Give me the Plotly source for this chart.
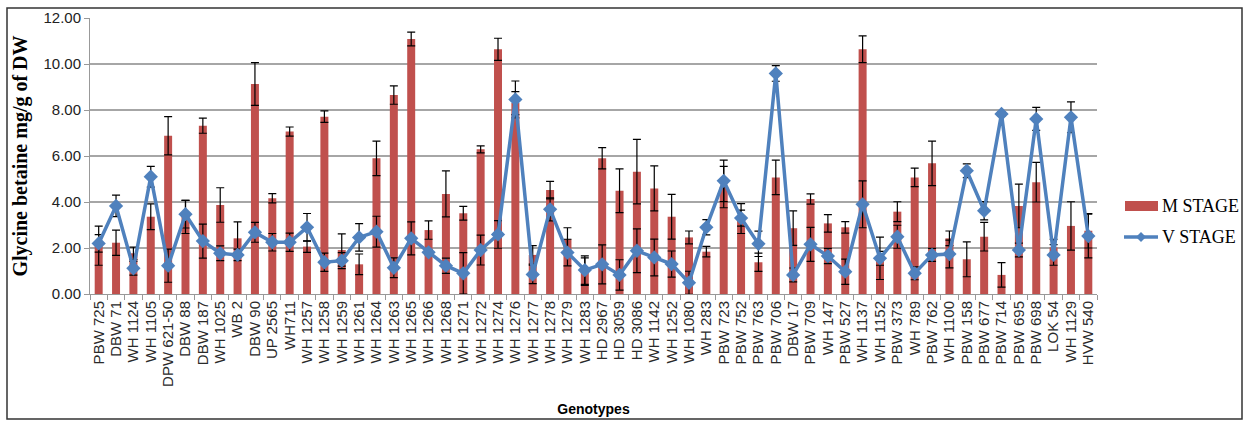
import plotly.graph_objects as go

genotypes = ["PBW 725", "DBW 71", "WH 1124", "WH 1105", "DPW 621-50", "DBW 88", "DBW 187",
             "WH 1025", "WB 2", "DBW 90", "UP 2565", "WH711", "WH 1257", "WH 1258", "WH 1259",
             "WH 1261", "WH 1264", "WH 1263", "WH 1265", "WH 1266", "WH 1268", "WH 1271",
             "WH 1272", "WH 1274", "WH 1276", "WH 1277", "WH 1278", "WH 1279", "WH 1283",
             "HD 2967", "HD 3059", "HD 3086", "WH 1142", "WH 1252", "WH 1080", "WH 283",
             "PBW 723", "PBW 752", "PBW 763", "PBW 706", "DBW 17", "PBW 709", "WH 147",
             "PBW 527", "WH 1137", "WH 1152", "PBW 373", "WH 789", "PBW 762", "WH 1100",
             "PBW 158", "PBW 677", "PBW 714", "PBW 695", "PBW 698", "LOK 54", "WH 1129", "HVW 540"]

m_stage = [2.10, 2.23, 1.77, 3.36, 6.88, 3.35, 7.32, 3.87, 2.42, 9.13,
           4.16, 7.06, 2.06, 7.71, 1.91, 1.29, 5.90, 8.65, 11.09, 2.78,
           4.35, 3.51, 6.29, 10.64, 8.30, 1.70, 4.52, 2.38, 0.97, 5.90,
           4.49, 5.32, 4.59, 3.36, 2.46, 1.84, 4.65, 3.28, 1.38, 5.07,
           2.86, 4.13, 3.07, 2.90, 10.64, 1.55, 3.58, 5.07, 5.68, 2.42,
           1.51, 2.49, 0.83, 3.83, 4.86, 2.03, 2.96, 2.75]
m_err = [0.85, 0.55, 0.27, 0.56, 0.83, 0.72, 0.33, 0.75, 0.72, 0.93,
         0.20, 0.20, 0.25, 0.25, 0.70, 0.45, 0.75, 0.40, 0.30, 0.40,
         1.00, 0.30, 0.15, 0.48, 0.50, 0.40, 0.38, 0.50, 0.60, 0.46,
         0.95, 1.40, 0.98, 0.97, 0.28, 0.23, 0.90, 0.65, 0.40, 0.75,
         0.75, 0.22, 0.38, 0.25, 0.58, 0.92, 0.43, 0.40, 0.97, 0.32,
         0.76, 0.62, 0.53, 0.95, 0.86, 0.35, 1.05, 0.75]

v_stage = [2.20, 3.83, 1.12, 5.10, 1.23, 3.47, 2.30, 1.77, 1.70, 2.68,
           2.25, 2.25, 2.90, 1.38, 1.45, 2.46, 2.71, 1.14, 2.42, 1.81,
           1.23, 0.90, 1.91, 2.59, 8.46, 0.85, 3.68, 1.80, 1.04, 1.29,
           0.83, 1.88, 1.59, 1.30, 0.49, 2.90, 4.92, 3.30, 2.18, 9.59,
           0.83, 2.16, 1.65, 0.97, 3.90, 1.55, 2.49, 0.90, 1.70, 1.74,
           5.36, 3.62, 7.83, 1.91, 7.61, 1.70, 7.68, 2.52]
v_err = [0.38, 0.47, 0.30, 0.45, 0.72, 0.60, 0.74, 0.32, 0.25, 0.43,
         0.38, 0.40, 0.60, 0.40, 0.35, 0.60, 0.67, 0.43, 0.72, 0.10,
         0.33, 0.90, 0.65, 0.60, 0.80, 0.40, 0.50, 0.58, 0.62, 0.85,
         0.66, 0.95, 0.80, 0.57, 0.50, 0.33, 0.90, 0.35, 0.55, 0.34,
         0.30, 0.74, 0.33, 0.55, 1.02, 0.30, 0.50, 0.28, 0.28, 0.60,
         0.30, 0.40, 0.10, 0.30, 0.50, 0.45, 0.67, 0.95]

y_ticks = [0, 2, 4, 6, 8, 10, 12]
y_tick_labels = ["0.00", "2.00", "4.00", "6.00", "8.00", "10.00", "12.00"]
series_names = ["M STAGE", "V STAGE"]

RED = "#C0504D"
BLUE = "#4F81BD"

fig = go.Figure()
fig.add_trace(go.Bar(
    x=genotypes, y=m_stage, name=series_names[0],
    marker=dict(color=RED, line=dict(width=0)),
    error_y=dict(type="data", array=m_err, visible=True, color="#000000", thickness=1.2, width=4),
))
fig.add_trace(go.Scatter(
    x=genotypes, y=v_stage, name=series_names[1], mode="lines+markers",
    line=dict(color=BLUE, width=3.5),
    marker=dict(symbol="diamond", size=11, color=BLUE),
    error_y=dict(type="data", array=v_err, visible=True, color="#000000", thickness=1.2, width=4),
))

L, R, T, B = 90, 148, 18, 127
W, H = 1245, 421
PW, PH = W - L - R, H - T - B


def px(x):
    return (x - L) / PW


def py(y):
    return (H - B - y) / PH


fig.update_layout(
    width=W, height=H,
    margin=dict(l=L, r=R, t=T, b=B, autoexpand=False),
    plot_bgcolor="white", paper_bgcolor="white",
    bargap=0.54,
    showlegend=False,
    xaxis=dict(
        type="category", tickangle=-90, range=[-0.5, len(genotypes) - 0.5],
        tickmode="array", tickvals=genotypes, ticktext=genotypes,
        tickfont=dict(family="Liberation Sans", size=15, color="#2a2a2a"),
        showline=True, linecolor="#999999", linewidth=1,
        ticks="outside", ticklen=5, tickcolor="#999999", tickson="boundaries",
        showgrid=False,
        title=dict(text="<b>Genotypes</b>", font=dict(family="Liberation Sans", size=14, color="#000000"), standoff=18),
    ),
    yaxis=dict(
        range=[0, 12], tickvals=y_ticks, ticktext=y_tick_labels,
        tickfont=dict(family="Liberation Sans", size=15, color="#222222"),
        showline=True, linecolor="#999999", linewidth=1,
        ticks="outside", ticklen=5, tickcolor="#999999",
        showgrid=True, gridcolor="#A6A6A6", gridwidth=1.5,
        zeroline=False,
        title=dict(text="<b>Glycine betaine mg/g of DW</b>",
                   font=dict(family="Liberation Serif", size=20, color="#000000"), standoff=10),
    ),
)

# outer chart border
fig.add_shape(type="rect", xref="paper", yref="paper",
              x0=px(7), x1=px(1242), y0=py(419), y1=py(8),
              line=dict(color="#333333", width=1.5), fillcolor="rgba(0,0,0,0)")

# legend (drawn to match the original's swatch geometry)
fig.add_shape(type="rect", xref="paper", yref="paper",
              x0=px(1125), x1=px(1158), y0=py(211), y1=py(201),
              line=dict(width=0), fillcolor=RED)
fig.add_shape(type="line", xref="paper", yref="paper",
              x0=px(1124), x1=px(1158), y0=py(237), y1=py(237),
              line=dict(color=BLUE, width=3.5))
cx, cy, d = 1141, 237, 5
fig.add_shape(type="path", xref="paper", yref="paper",
              path=f"M {px(cx - d)} {py(cy)} L {px(cx)} {py(cy - d)} L {px(cx + d)} {py(cy)} L {px(cx)} {py(cy + d)} Z",
              line=dict(width=0), fillcolor=BLUE)
for name, yy in zip(series_names, [206, 237]):
    fig.add_annotation(text=name, xref="paper", yref="paper", x=px(1160), y=py(yy),
                       xanchor="left", yanchor="middle", showarrow=False,
                       font=dict(family="Liberation Serif", size=18, color="#000000"))

fig.write_html("out.html")
